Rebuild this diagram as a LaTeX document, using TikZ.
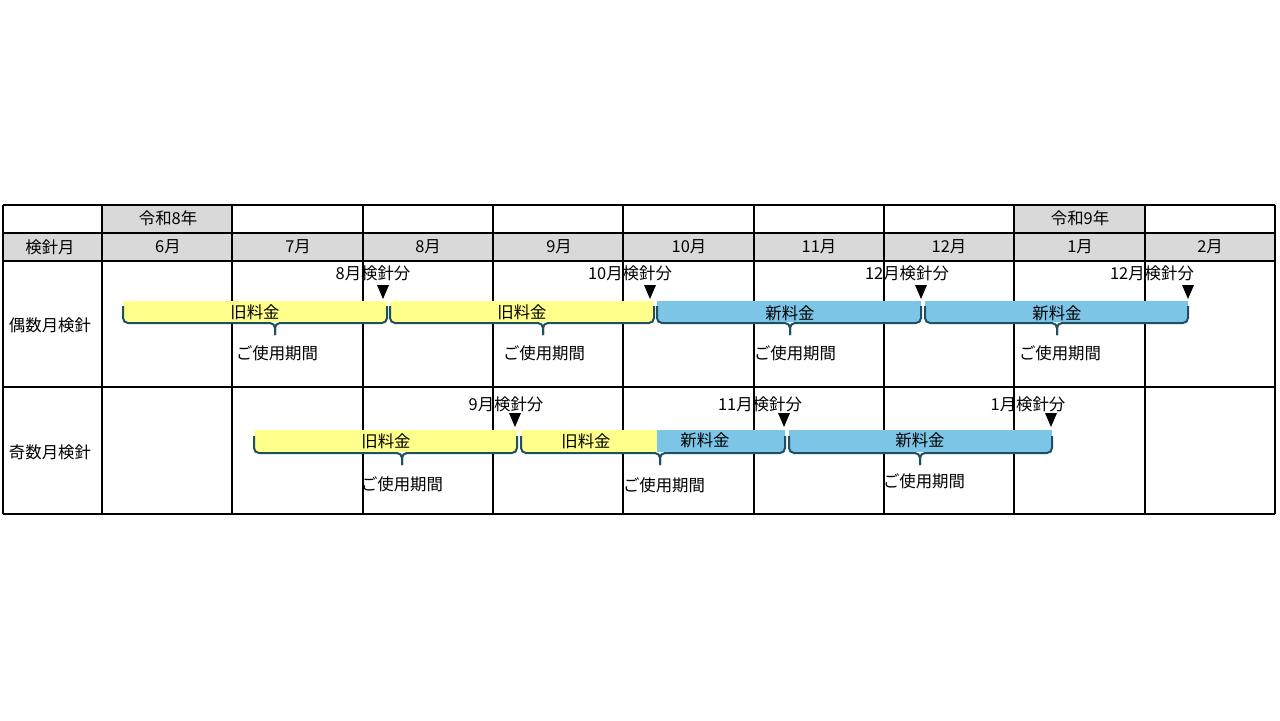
\documentclass[tikz,border=0pt]{standalone}
\usepackage{fontspec}
\setmainfont{Noto Sans CJK JP}
\usepackage{tikz}
\usetikzlibrary{positioning}

\definecolor{hdrgray}{RGB}{217,217,217}
\definecolor{oldfee}{RGB}{255,255,140}
\definecolor{newfee}{RGB}{124,197,230}
\definecolor{bracecol}{RGB}{31,80,98}

\tikzset{
  cell/.style={font=\fontsize{8.2}{9}\selectfont, inner sep=0pt},
  gridline/.style={draw=black, line width=0.55pt},
  oldbar/.style={fill=oldfee},
  newbar/.style={fill=newfee},
  feebrace/.style={draw=bracecol, line width=1pt, rounded corners=2.5pt},
  readtri/.style={fill=black},
}

\begin{document}
\begin{tikzpicture}[x=0.5pt, y=-0.5pt]
  \useasboundingbox[fill=white] (0,0) rectangle (1280,720);

  % grey header cells
  \fill[hdrgray] (102,205) rectangle (232,233);
  \fill[hdrgray] (1014,205) rectangle (1145,233);
  \fill[hdrgray] (3,233) rectangle (1275,261);

  % table grid
  \foreach \y in {205,233,261,387,514}
    \draw[gridline] (3,\y) -- (1275,\y);
  \foreach \x in {3,102,232,363,493,623,754,884,1014,1145,1275}
    \draw[gridline] (\x,205) -- (\x,514);

  % year and month heads
  \node[cell] (y8) at (168,218) {令和8年};
  \node[cell] (y9) at (1080,218) {令和9年};
  \node[cell] (head) at (50,247) {検針月};
  \foreach \nm/\x/\lbl in {h6/168/6月, h7/298/7月, h8/428/8月, h9/559/9月, h10/689/10月,
                           h11/819/11月, h12/949/12月, h1/1080/1月, h2/1210/2月}
    \node[cell] (\nm) at (\x,247) {\lbl};

  \node[cell] (even) at (50,325) {偶数月検針};
  \node[cell] (odd) at (50,452) {奇数月検針};

  % fee bars
  \fill[oldbar] (123,301) rectangle (387,322);
  \fill[oldbar] (390,301) rectangle (654,322);
  \fill[newbar] (657,301) rectangle (921,322);
  \fill[newbar] (925,301) rectangle (1188,322);
  \fill[oldbar] (254,430) rectangle (517,452);
  \fill[oldbar] (521,430) rectangle (657,452);
  \fill[newbar] (657,430) rectangle (785,452);
  \fill[newbar] (789,430) rectangle (1052,452);

  % braces under the bars
  \foreach \xa/\xb/\xm/\yb in {123/387/275/323, 390/654/543/323, 657/921/790/323,
                               925/1188/1057/323, 254/517/402/453, 521/785/660/453,
                               789/1052/920/453} {
    \draw[feebrace] (\xa,\yb-17) -- (\xa,\yb) -- (\xm,\yb) -- (\xm,\yb+12);
    \draw[feebrace] (\xm,\yb+12) -- (\xm,\yb) -- (\xb,\yb) -- (\xb,\yb-17);
  }

  % fee labels
  \foreach \nm/\x/\y/\lbl in {fe1/255/312/旧料金, fe2/522/312/旧料金, fe3/790/313/新料金,
                              fe4/1057/313/新料金, fo1/386/441/旧料金, fo2/586/441/旧料金,
                              fo3/705/440/新料金, fo4/920/440/新料金}
    \node[cell] (\nm) at (\x,\y) {\lbl};

  % usage period labels
  \foreach \nm/\x/\y in {ue1/277/353, ue2/544/353, ue3/795/353, ue4/1060/353,
                         uo1/402/484, uo2/664/485, uo3/924/481}
    \node[cell] (\nm) at (\x,\y) {ご使用期間};

  % reading marks
  \foreach \nm/\tx/\ax/\lbl in {me1/373/383/8月検針分, me2/630/650/10月検針分,
                                me3/907/921/12月検針分, me4/1152/1188/12月検針分} {
    \node[cell] (\nm) at (\tx,273) {\lbl};
    \fill[readtri] (\ax-6,285) -- (\ax+6,285) -- (\ax,299) -- cycle;
  }
  \foreach \nm/\tx/\ax/\lbl in {mo1/506/515/9月検針分, mo2/760/784/11月検針分,
                                mo3/1028/1051/1月検針分} {
    \node[cell] (\nm) at (\tx,404) {\lbl};
    \fill[readtri] (\ax-6,413) -- (\ax+6,413) -- (\ax,427) -- cycle;
  }
\end{tikzpicture}
\end{document}
